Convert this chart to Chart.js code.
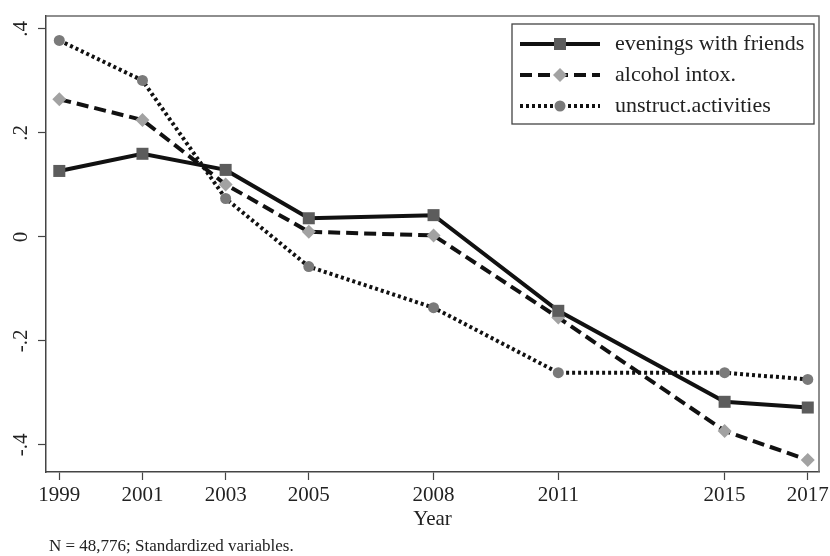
<!DOCTYPE html>
<html>
<head>
<meta charset="utf-8">
<script src="https://cdn.jsdelivr.net/npm/chart.js@4"></script>
<style>
  html, body { margin: 0; padding: 0; background: #fff; }
</style>
</head>
<body>
<canvas id="chart" width="830" height="556"></canvas>
<script>
// values
const years = [1999, 2001, 2003, 2005, 2008, 2011, 2015, 2017];
const evenings = [0.127, 0.160, 0.129, 0.036, 0.042, -0.142, -0.317, -0.328];
const alcohol = [0.265, 0.225, 0.101, 0.010, 0.003, -0.155, -0.373, -0.429];
const unstruct = [0.378, 0.301, 0.074, -0.057, -0.136, -0.261, -0.261, -0.274];
const yTicks = [-0.4, -0.2, 0, 0.2, 0.4];
const footnote = "N = 48,776; Standardized variables.";

const serif = "'Liberation Serif', 'Times New Roman', serif";

function pts(vals) {
    return years.map((yr, i) => ({ x: yr, y: vals[i] }));
}

function fmtY(v) {
    if (Math.abs(v) < 1e-9) return "0";
    let s = (Math.round(v * 10) / 10).toString();
    return s.replace("0.", ".");
}

// box around the plot area
const framePlugin = {
    id: "frame",
    afterDraw(chart) {
        const { ctx, chartArea: a } = chart;
        ctx.save();
        ctx.strokeStyle = "#6a6a6a";
        ctx.lineWidth = 1.5;
        ctx.beginPath();
        ctx.moveTo(a.left, a.top);
        ctx.lineTo(a.right, a.top);
        ctx.lineTo(a.right, a.bottom);
        ctx.stroke();
        ctx.restore();
    }
};

// legend box inside the plot, line + marker samples
const legendPlugin = {
    id: "boxLegend",
    afterDraw(chart) {
        const { ctx, chartArea: a } = chart;
        const boxR = a.right - 5, boxL = boxR - 302, boxT = a.top + 8, boxB = boxT + 100;
        ctx.save();
        ctx.fillStyle = "#fff";
        ctx.fillRect(boxL, boxT, boxR - boxL, boxB - boxT);
        ctx.strokeStyle = "#444";
        ctx.lineWidth = 1.3;
        ctx.strokeRect(boxL, boxT, boxR - boxL, boxB - boxT);
        chart.data.datasets.forEach((ds, i) => {
            const y = boxT + 20 + i * 31;
            const x0 = boxL + 8, x1 = boxL + 88;
            ctx.save();
            ctx.strokeStyle = ds.borderColor;
            ctx.lineWidth = ds.borderWidth;
            ctx.setLineDash(ds.borderDash || []);
            ctx.beginPath();
            ctx.moveTo(x0, y);
            ctx.lineTo(x1, y);
            ctx.stroke();
            ctx.restore();
            ctx.fillStyle = ds.pointBackgroundColor;
            Chart.helpers.drawPoint(ctx, {
                pointStyle: ds.pointStyle,
                radius: ds.pointRadius,
                rotation: 0,
                borderWidth: 0
            }, (x0 + x1) / 2, y);
            ctx.fillStyle = "#222";
            ctx.font = "22px " + serif;
            ctx.textBaseline = "middle";
            ctx.textAlign = "left";
            ctx.fillText(ds.label, boxL + 103, y);
        });
        ctx.restore();
    }
};

const notePlugin = {
    id: "note",
    afterDraw(chart) {
        const { ctx, chartArea: a } = chart;
        ctx.save();
        ctx.fillStyle = "#222";
        ctx.font = "17px " + serif;
        ctx.textBaseline = "middle";
        ctx.fillText(footnote, a.left + 3, 547);
        ctx.restore();
    }
};

new Chart(document.getElementById("chart"), {
    type: "line",
    data: {
        datasets: [
            {
                label: "evenings with friends",
                data: pts(evenings),
                borderColor: "#111",
                borderWidth: 4,
                pointStyle: "rect",
                pointRadius: 8.5,
                pointBackgroundColor: "#5c5c5c",
                pointBorderWidth: 0
            },
            {
                label: "alcohol intox.",
                data: pts(alcohol),
                borderColor: "#111",
                borderWidth: 4,
                borderDash: [12, 6],
                pointStyle: "rectRot",
                pointRadius: 7,
                pointBackgroundColor: "#a2a2a2",
                pointBorderWidth: 0
            },
            {
                label: "unstruct.activities",
                data: pts(unstruct),
                borderColor: "#111",
                borderWidth: 4,
                borderDash: [3, 3],
                pointStyle: "circle",
                pointRadius: 5.5,
                pointBackgroundColor: "#7a7a7a",
                pointBorderWidth: 0
            }
        ]
    },
    options: {
        responsive: false,
        animation: false,
        devicePixelRatio: 1,
        layout: { padding: { left: 0, top: 16, right: 11, bottom: 23 } },
        plugins: {
            legend: { display: false },
            tooltip: { enabled: false }
        },
        scales: {
            x: {
                type: "linear",
                min: 1998.68,
                max: 2017.27,
                afterBuildTicks: s => { s.ticks = years.map(v => ({ value: v })); },
                afterFit: s => { s.height = 61; s.paddingLeft = 0; s.paddingRight = 0; },
                grid: { drawOnChartArea: false, tickLength: 8, tickColor: "#444", tickWidth: 1.2 },
                border: { color: "#444", width: 1.5 },
                ticks: {
                    color: "#222",
                    font: { family: serif, size: 21 },
                    padding: 3,
                    maxRotation: 0,
                    callback: v => String(v)
                },
                title: {
                    display: true,
                    text: "Year",
                    color: "#222",
                    font: { family: serif, size: 21 },
                    padding: { top: 0, bottom: 1 }
                }
            },
            y: {
                min: -0.452,
                max: 0.425,
                afterBuildTicks: s => { s.ticks = yTicks.map(v => ({ value: v })); },
                afterFit: s => { s.width = 46; s.paddingTop = 0; s.paddingBottom = 0; },
                grid: { drawOnChartArea: false, tickLength: 8, tickColor: "#444", tickWidth: 1.2 },
                border: { color: "#444", width: 1.5 },
                ticks: {
                    color: "#222",
                    font: { family: serif, size: 21 },
                    minRotation: 90,
                    maxRotation: 90,
                    crossAlign: "center",
                    padding: 5,
                    callback: v => fmtY(v)
                }
            }
        }
    },
    plugins: [framePlugin, legendPlugin, notePlugin]
});
</script>
</body>
</html>
